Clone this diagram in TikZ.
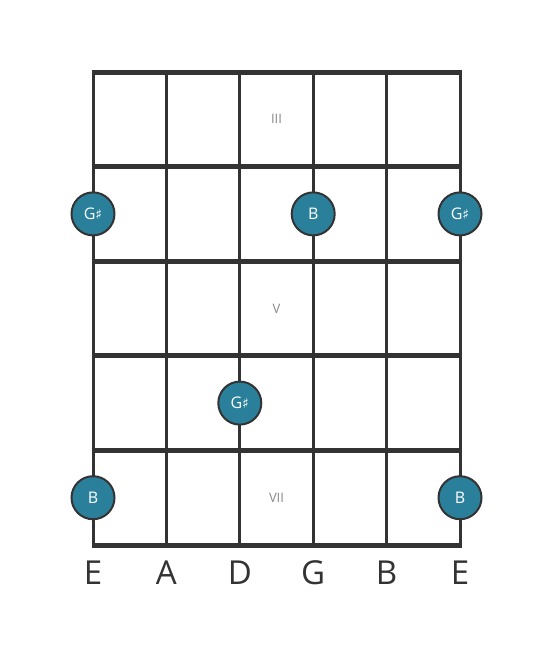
\documentclass[tikz,border=0pt]{standalone}
\usepackage{fontspec}
\setmainfont{Open Sans}
\newfontfamily\symfont{DejaVu Sans}
\usetikzlibrary{positioning}
\definecolor{gridline}{RGB}{51, 51, 51}
\definecolor{notefill}{RGB}{42, 128, 155}
\definecolor{fretlabel}{RGB}{136, 136, 136}
\newcommand{\shrp}{{\symfont\fontsize{14}{14}\selectfont ♯}}

\begin{document}
\begin{tikzpicture}[
    x=1pt, y=-1pt,
    note/.style={circle, draw=gridline, line width=2pt, fill=notefill,
        minimum size=43pt, inner sep=0pt, text=white, font=\fontsize{16}{16}\selectfont},
    fretnum/.style={text=fretlabel, font=\fontsize{13}{13}\selectfont},
    stringname/.style={text=gridline, font=\fontsize{33}{33}\selectfont},
]
\useasboundingbox (0,0) rectangle (553,656);

\def\strx{93}
\def\strsep{73.4}
\def\frety{72}
\def\fretsep{94.6}

% ===== strings =====
\foreach \i in {0,...,5} {
    \pgfmathsetmacro{\x}{\strx+\i*\strsep}
    \draw[gridline, line width=3pt] (\x, \frety) -- (\x, \frety+5*\fretsep);
}

% ===== frets =====
\foreach \j in {0,...,5} {
    \pgfmathsetmacro{\y}{\frety+\j*\fretsep}
    \draw[gridline, line width=5pt] (\strx-1.5, \y) -- (\strx+5*\strsep+1.5, \y);
}

% ===== fret numbers =====
\foreach \j/\lab in {0/III, 2/V, 4/VII} {
    \pgfmathsetmacro{\y}{\frety+\j*\fretsep+0.5*\fretsep}
    \node[fretnum] (fret\lab) at (\strx+2.5*\strsep, \y) {\lab};
}

% ===== notes =====
\foreach \s/\f/\lab/\nm in {0/1/G\shrp/a, 3/1/B/b, 5/1/G\shrp/c,
                            2/3/G\shrp/d, 0/4/B/e, 5/4/B/f} {
    \pgfmathsetmacro{\x}{\strx+\s*\strsep}
    \pgfmathsetmacro{\y}{\frety+\f*\fretsep+0.5*\fretsep}
    \node[note] (note\nm) at (\x, \y) {\lab};
}

% ===== string names =====
\foreach \i/\lab in {0/E, 1/A, 2/D, 3/G, 4/B, 5/E} {
    \pgfmathsetmacro{\x}{\strx+\i*\strsep}
    \node[stringname] (str\i) at (\x, 573) {\lab};
}

\end{tikzpicture}
\end{document}
